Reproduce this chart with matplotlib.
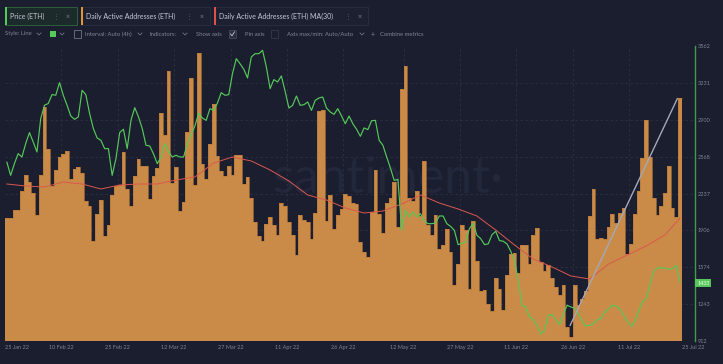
import pandas as pd
import matplotlib
matplotlib.use("Agg")
import matplotlib.pyplot as plt
import matplotlib.dates as mdates
import matplotlib.transforms as mtransforms
from matplotlib.patches import Rectangle
from matplotlib.lines import Line2D

plt.rcParams['font.family'] = ['Lato', 'DejaVu Sans']

BG = '#1b1e2e'
GRID = '#2c3044'
TXT = '#7f8499'
HEAD = '#c5c8d4'
ORANGE = '#c98b47'
GREEN = '#55c95a'
RED = '#dc574f'

start = "2022-01-26"

# daily active addresses (ETH), thousands, one bar per day
daa_k = [518, 518, 526, 526, 545, 561, 554, 543, 521, 561, 629, 587, 550, 566, 579, 582, 585, 557, 567, 569,
         563, 535, 530, 495, 522, 536, 500, 511, 541, 550, 551, 584, 547, 530, 560, 577, 570, 570, 537, 560,
         568, 623, 601, 665, 553, 569,
         525, 534, 604, 658, 551, 683, 572, 557, 592, 632, 580, 565, 560, 570, 561, 581, 581, 552, 559, 538,
         514, 500, 495, 512, 519, 511, 501, 533, 530, 514, 501, 481, 521, 516, 514, 497, 523, 625, 626, 515,
         541, 507, 521, 527, 542,
         540, 533, 532, 494, 484, 479, 524, 566, 522, 503, 533, 538, 554, 509, 647, 670, 538, 535, 545, 520,
         575, 511, 501, 521, 487, 491, 507, 484, 451, 472, 511, 506, 447, 515, 475, 445, 446, 432, 425, 458,
         447, 426, 461, 482,
         483, 463, 491, 491, 472, 501, 508, 474, 465, 471, 458, 449, 441, 451, 409, 399, 451, 431, 437, 445,
         520, 547, 497, 498, 497, 509, 522, 513, 523, 528, 482, 492, 522, 545, 578, 616, 579, 538, 521, 530,
         543, 570, 528, 519, 638]

# ETH price (USD), one reading per day
price = [2518, 2400, 2505, 2595, 2565, 2685, 2784, 2700, 2610, 2910, 3030, 3045, 3125, 3120, 3233, 3120,
         3030, 2933, 2903, 2925, 3164, 3125, 2955, 2820, 2736, 2715, 2640, 2640, 2400, 2550, 2784, 2814,
         2640, 2895, 3008, 2925, 2820, 2670, 2664, 2592, 2505, 2565, 2685, 2610, 2565,
         2580, 2565, 2565, 2685, 2766, 2843, 2957, 2915, 2894, 2999, 2984, 3050, 3143, 3119, 3125, 3314,
         3448, 3403, 3353, 3275, 3463, 3493, 3493, 3523, 3374, 3179, 3260, 3239, 3293, 3155, 3005, 3029,
         3113, 3029, 3035, 3059, 2984, 3074, 3095, 3104, 3005, 2969, 2948, 2999, 2933,
         2864, 2933, 2864, 2814, 2751, 2826, 2811, 2891, 2894, 2715, 2670, 2565, 2466, 2355, 2364, 1906,
         2086, 2026, 2071, 2026, 2056, 1987, 1966, 1966, 1972, 2035, 2035, 1966, 1942, 1906, 1778, 1787,
         1802, 1921, 1969, 1861, 1832, 1778, 1784, 1867, 1897, 1814, 1808, 1784, 1718, 1637,
         1457, 1233, 1218, 1128, 1104, 1053, 975, 1008, 1143, 1149, 1107, 1059, 1158, 1233, 1218, 1206,
         1158, 1089, 1047, 1053, 1068, 1104, 1113, 1170, 1203, 1233, 1224, 1203, 1143, 1092, 1044, 1083,
         1179, 1263, 1293, 1409, 1538, 1568, 1568, 1568, 1556, 1562, 1592, 1440]

# MA(30) of daily active addresses, thousands, read every 5 days
ma30_days = [0, 5, 10, 15, 20, 25, 30, 35, 40, 45, 50, 55, 60, 65, 70, 75, 80, 85, 90, 95, 100, 105,
             110, 115, 120, 125, 130, 135, 140, 145, 150, 155, 160, 165, 170, 175, 179]
ma30_k = [552, 550, 549, 554, 552, 547, 551, 552, 552, 556, 559, 573, 579, 575, 566, 555, 541, 536, 528,
          523, 525, 532, 541, 533, 527, 520, 506, 491, 477, 469, 460, 457, 472, 481, 490, 501, 518]

# straight gray drawing line (days from start, price)
gray_days = [150.3, 178.8]
gray_price = [1053, 3089]

price_ticks = [912, 1243, 1574, 1906, 2237, 2568, 2900, 3231, 3562]
date_ticks = ["2022-01-26", "2022-02-10", "2022-02-25", "2022-03-12", "2022-03-27", "2022-04-11",
              "2022-04-26", "2022-05-12", "2022-05-27", "2022-06-11", "2022-06-26", "2022-07-11", "2022-07-25"]
date_labels = ["25 Jan 22", "10 Feb 22", "25 Feb 22", "12 Mar 22", "27 Mar 22", "11 Apr 22", "26 Apr 22",
               "12 May 22", "27 May 22", "11 Jun 22", "26 Jun 22", "11 Jul 22", "25 Jul 22"]
last_price = "1433"

W, H = 723, 364


def fx(px):
    return px / W


def fy(py):
    return 1 - py / H


fig = plt.figure(figsize=(W / 100, H / 100), dpi=100, facecolor=BG)
ax = fig.add_axes([fx(5), fy(341), 690 / W, 295 / H])
ax.set_facecolor(BG)

t0 = pd.Timestamp(start)
days = pd.date_range(start, periods=len(daa_k), freq="D")
edges = mdates.date2num(pd.date_range(start, periods=len(daa_k) + 1, freq="D"))
mid = days + pd.Timedelta(hours=12)

# watermark behind everything
ax.text(0.555, 0.55, "santiment·", transform=ax.transAxes, fontsize=36, color='#23273a',
        ha='center', va='center', zorder=0)

# daily bars drawn as one filled step outline so neighbours touch without seams
ax.stairs(daa_k, edges, baseline=0, fill=True, color=ORANGE, zorder=2)
ax.stairs(daa_k, edges, baseline=None, color='#b8793a', lw=0.5, zorder=2.1)
ma_x = t0 + pd.to_timedelta(ma30_days, unit='D') + pd.Timedelta(hours=12)
ax.plot(ma_x, ma30_k, color=RED, lw=0.7, zorder=3)
ax.set_ylim(395, 690)
ax.set_xlim(t0, t0 + pd.Timedelta(days=183.5))

ax2 = ax.twinx()
ax2.set_ylim(912, 3562)

# grid lines sit behind the bars
hgrid = mtransforms.blended_transform_factory(ax.transAxes, ax2.transData)
for p in price_ticks[1:-1]:
    ax.add_line(Line2D([0, 1], [p, p], transform=hgrid, color=GRID, lw=0.6, ls=(0, (3, 3)), zorder=1))
for d in date_ticks[1:-1]:
    ax.axvline(pd.Timestamp(d), color=GRID, lw=0.6, ls=(0, (3, 3)), zorder=1)

ax2.plot(mid, price, color=GREEN, lw=0.85, zorder=4)
g0 = t0 + pd.Timedelta(days=gray_days[0])
g1 = t0 + pd.Timedelta(days=gray_days[1])
ax2.plot([g0, g1], gray_price, color='#a3a8ba', lw=1.0, zorder=5)

for a in (ax, ax2):
    for s in a.spines.values():
        s.set_visible(False)
ax2.spines['right'].set_visible(True)
ax2.spines['right'].set_color('#3f9e4b')
ax2.spines['right'].set_linewidth(1.0)

ax.set_yticks([])
ax2.set_yticks(price_ticks)
ax2.set_yticklabels([str(p) for p in price_ticks])
ax2.tick_params(axis='y', length=0, pad=2, labelsize=4, colors=TXT)

ax.set_xticks([pd.Timestamp(d) for d in date_ticks])
ax.set_xticklabels(date_labels)
ax.tick_params(axis='x', length=0, pad=3, labelsize=4, colors=TXT)
lbls = ax.get_xticklabels()
lbls[0].set_ha('left')
lbls[-1].set_ha('left')

ax2.text(1.003, 1433, last_price, transform=mtransforms.blended_transform_factory(ax2.transAxes, ax2.transData),
         fontsize=3.8, color='#f2fff2', ha='left', va='center',
         bbox=dict(boxstyle='square,pad=0.35', fc='#57c75b', ec='none'), clip_on=False)

# ---- header: metric chips ----
chips = [(5, 77, "Price (ETH)", GREEN, '#1d2a2b', '#2e6a3a', 56, 68),
         (81, 210, "Daily Active Addresses (ETH)", '#e0962f', '#1d2031', '#2a2e40', 189, 202),
         (214, 368, "Daily Active Addresses (ETH) MA(30)", '#e0504a', '#1d2031', '#2a2e40', 348, 360)]
for x0, x1, label, col, fc, ec, xd, xx in chips:
    fig.patches.append(Rectangle((fx(x0), fy(25)), (x1 - x0) / W, 18 / H, transform=fig.transFigure,
                                 fc=fc, ec=ec, lw=0.6))
    fig.patches.append(Rectangle((fx(x0), fy(25)), 2 / W, 18 / H, transform=fig.transFigure, fc=col, ec='none'))
    fig.text(fx(x0 + 5), fy(16), label, fontsize=5, color=HEAD, va='center')
    fig.text(fx(xd), fy(16), "⋮", fontsize=5, color='#5c6175', va='center', ha='center',
             family=['DejaVu Sans'])
    fig.text(fx(xx), fy(16), "×", fontsize=5, color='#7a7f93', va='center', ha='center')


def chevron(px, py):
    fig.lines.append(Line2D([fx(px - 2), fx(px), fx(px + 2)], [fy(py - 1), fy(py + 1), fy(py - 1)],
                            transform=fig.transFigure, color='#6f7488', lw=0.6))


ry = 34
opt = [(5, "Style: Line"), (85, "Interval: Auto (4h)"), (150, "Indicators:"), (196, "Show axis"),
       (245, "Pin axis"), (287, "Axis max/min: Auto/Auto"), (380, "Combine metrics")]
for x, t in opt:
    fig.text(fx(x), fy(ry), t, fontsize=4.2, color='#80859a', va='center')
for x in (39, 62, 140, 185, 362):
    chevron(x, ry)
fig.text(fx(373), fy(ry), "+", fontsize=5, color='#80859a', va='center', ha='center')

fig.patches.append(Rectangle((fx(50), fy(37)), 6 / W, 6 / H, transform=fig.transFigure, fc=GREEN, ec='none'))
fig.patches.append(Rectangle((fx(74), fy(37.5)), 7 / W, 7 / H, transform=fig.transFigure, fc='none',
                             ec='#6f7488', lw=0.6))
fig.patches.append(Rectangle((fx(229), fy(37.5)), 7 / W, 7 / H, transform=fig.transFigure, fc='#2a2e40',
                             ec='#4a4f63', lw=0.5))
fig.lines.append(Line2D([fx(230.5), fx(232), fx(234.5)], [fy(34), fy(35.8), fy(31.8)], transform=fig.transFigure,
                        color='#c5c8d4', lw=0.6))
fig.patches.append(Rectangle((fx(271), fy(37.5)), 7 / W, 7 / H, transform=fig.transFigure, fc='none',
                             ec='#3a3f53', lw=0.5))

fig.savefig("out.png", dpi=100, facecolor=BG)
